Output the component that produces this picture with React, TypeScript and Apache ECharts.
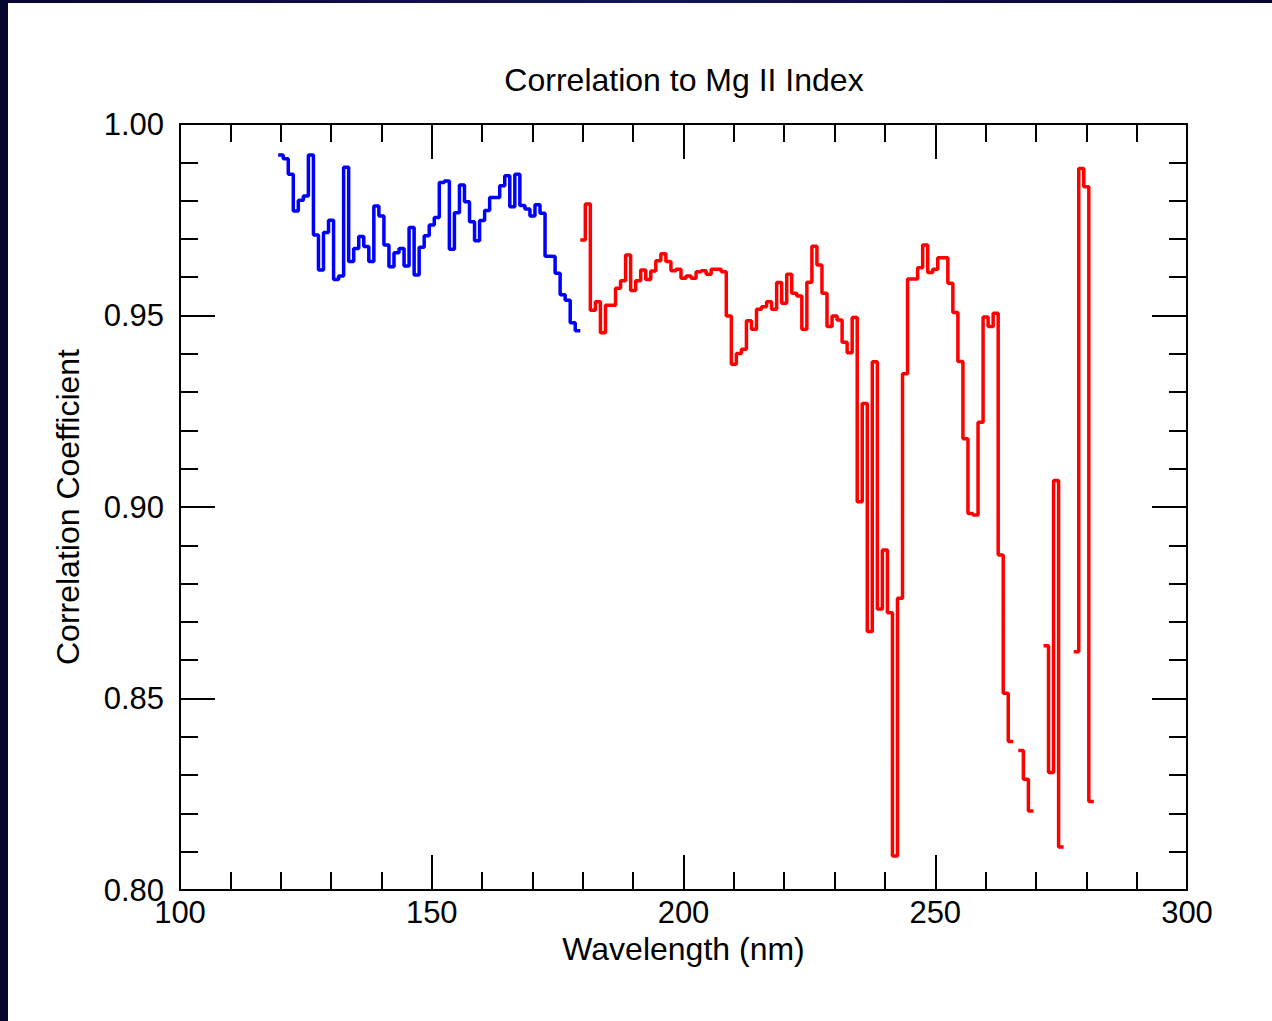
import React, { useEffect, useRef } from "react";
import * as echarts from "echarts";

// Blue series: 1-nm bins starting at 120 nm
const blueStart = 120;
const blueValues = [
  0.9919, 0.9909, 0.9869, 0.9773, 0.9801, 0.9812, 0.9919, 0.971, 0.9619, 0.9717,
  0.9749, 0.9594, 0.9603, 0.9887, 0.9641, 0.9675, 0.9706, 0.968, 0.9641, 0.9786,
  0.976, 0.9684, 0.9627, 0.9664, 0.9675, 0.9629, 0.973, 0.9606, 0.9678, 0.9708,
  0.9736, 0.9756, 0.9847, 0.9851, 0.9673, 0.9768, 0.9841, 0.9797, 0.9745, 0.9695,
  0.9748, 0.9774, 0.9808, 0.9808, 0.9839, 0.9865, 0.9784, 0.9869, 0.9787, 0.9778,
  0.976, 0.9789, 0.9767, 0.9655, 0.9654, 0.961, 0.9554, 0.954, 0.9481, 0.946,
];

// Red series: 1-nm bins starting at 180 nm (null = missing bin)
const redStart = 180;
const redValues: (number | null)[] = [
  0.9697, 0.9791, 0.9514, 0.9536, 0.9455, 0.9527, 0.9527, 0.9571, 0.9591, 0.9658,
  0.9565, 0.9591, 0.9619, 0.9594, 0.9616, 0.9643, 0.9661, 0.9641, 0.9617, 0.9621,
  0.9597, 0.9603, 0.9597, 0.9614, 0.9617, 0.9608, 0.9621, 0.9621, 0.9614, 0.9499,
  0.9373, 0.9401, 0.9412, 0.9486, 0.9464, 0.9516, 0.9523, 0.9536, 0.9516, 0.9586,
  0.9532, 0.9608, 0.9558, 0.9551, 0.9464, 0.9587, 0.9681, 0.9632, 0.9558, 0.9471,
  0.9499, 0.9488, 0.943, 0.9403, 0.9495, 0.9014, 0.927, 0.8675, 0.9379, 0.8734,
  0.8888, 0.8724, 0.8089, 0.8762, 0.9348, 0.9595, 0.9595, 0.9625, 0.9684, 0.9612,
  0.9621, 0.9651, 0.9651, 0.9584, 0.9508, 0.938, 0.9178, 0.8983, 0.8979, 0.9221,
  0.9496, 0.9471, 0.9506, 0.8875, 0.8514, 0.8388, null, 0.8364, 0.8289, 0.8206,
  null, null, 0.8638, 0.8307, 0.9069, 0.8112, null, null, 0.8622, 0.9884,
  0.9836, 0.8231,
];

const xTicks = [100, 150, 200, 250, 300];
const yTicks = [0.8, 0.85, 0.9, 0.95, 1.0];

function histogram(start: number, values: (number | null)[]) {
  const out: (number | null)[][] = [];
  values.forEach((v, i) => {
    const c = start + i;
    if (v === null) out.push([c, null]);
    else {
      out.push([c - 0.5, v]);
      out.push([c + 0.5, v]);
    }
  });
  return out;
}

const FONT = "'Liberation Sans', Arial, Helvetica, sans-serif";

export default function App() {
  const ref = useRef<HTMLDivElement>(null);
  useEffect(() => {
    if (!ref.current) return;
    const chart = echarts.init(ref.current, undefined, { renderer: "svg" });
    const axisLine = { show: true, lineStyle: { color: "#000", width: 2 } };
    const tick = { show: true, inside: true, length: 35, lineStyle: { color: "#000", width: 2 } };
    const minor = { show: true, splitNumber: 5, length: 18, lineStyle: { color: "#000", width: 2 } };
    const xMin = xTicks[0], xMax = xTicks[xTicks.length - 1];
    const yMin = yTicks[0], yMax = yTicks[yTicks.length - 1];
    chart.setOption({
      animation: false,
      backgroundColor: "#ffffff",
      graphic: [
        {
          type: "text",
          x: 676,
          y: 77,
          style: {
            text: "Correlation to Mg II Index",
            fontFamily: FONT,
            fontSize: 32,
            fill: "#000",
            textAlign: "center",
            textVerticalAlign: "middle",
          },
        },
      ],
      grid: { left: 172, top: 121, width: 1007, height: 766 },
      xAxis: [
        {
          type: "value", min: xMin, max: xMax, interval: 50, position: "bottom",
          name: "Wavelength (nm)", nameLocation: "middle", nameGap: 32,
          nameTextStyle: { fontFamily: FONT, fontSize: 32, color: "#000" },
          axisLine, axisTick: tick, minorTick: minor, splitLine: { show: false },
          axisLabel: { margin: 7, fontFamily: FONT, fontSize: 31, color: "#000" },
        },
        {
          type: "value", min: xMin, max: xMax, interval: 50, position: "top",
          axisLine, axisTick: tick, minorTick: minor, splitLine: { show: false },
          axisLabel: { show: false },
        },
      ],
      yAxis: [
        {
          type: "value", min: yMin, max: yMax, interval: 0.05, position: "left",
          name: "Correlation Coefficient", nameLocation: "middle", nameGap: 96,
          nameTextStyle: { fontFamily: FONT, fontSize: 32, color: "#000" },
          axisLine, axisTick: tick, minorTick: minor, splitLine: { show: false },
          axisLabel: {
            margin: 16, fontFamily: FONT, fontSize: 31, color: "#000",
            formatter: (v: number) => v.toFixed(2),
          },
        },
        {
          type: "value", min: yMin, max: yMax, interval: 0.05, position: "right",
          axisLine, axisTick: tick, minorTick: minor, splitLine: { show: false },
          axisLabel: { show: false },
        },
      ],
      series: [
        {
          type: "line", name: "blue", data: histogram(blueStart, blueValues),
          showSymbol: false, lineStyle: { color: "#0000ff", width: 3.5 }, itemStyle: { color: "#0000ff" },
        },
        {
          type: "line", name: "red", data: histogram(redStart, redValues),
          showSymbol: false, lineStyle: { color: "#ff0000", width: 3.5 }, itemStyle: { color: "#ff0000" },
        },
      ],
    });
    return () => chart.dispose();
  }, []);
  return (
    <div
      style={{
        position: "fixed", left: 0, top: 0, width: 1272, height: 1021, overflow: "hidden",
        background: "linear-gradient(90deg, #06062e 0%, #14145e 50%, #06062e 100%)",
      }}
    >
      <div ref={ref} style={{ position: "absolute", left: 8, top: 3, width: 1264, height: 1018 }} />
    </div>
  );
}
